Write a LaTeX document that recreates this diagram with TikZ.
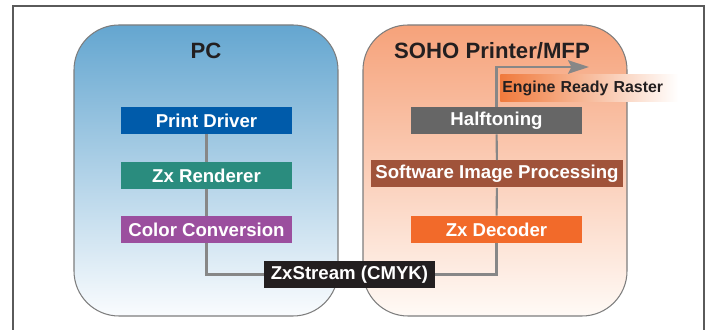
\documentclass[tikz,border=0pt]{standalone}
\usepackage{fontspec}
\setmainfont{Liberation Sans}
\usetikzlibrary{arrows.meta}
\tikzstyle{pixelGrid} = [x = 0.02cm, y = -0.02cm]
\definecolor{frameColor}{RGB}{90,90,90}
\definecolor{panelLine}{RGB}{125,125,125}
\definecolor{pcTop}{RGB}{100,166,208}
\definecolor{pcBottom}{RGB}{250,252,254}
\definecolor{mfpTop}{RGB}{246,162,122}
\definecolor{mfpBottom}{RGB}{255,250,246}
\definecolor{driverColor}{RGB}{0,91,170}
\definecolor{rendererColor}{RGB}{42,140,126}
\definecolor{conversionColor}{RGB}{155,79,158}
\definecolor{halftoneColor}{RGB}{102,102,102}
\definecolor{imageColor}{RGB}{160,83,58}
\definecolor{decoderColor}{RGB}{242,106,42}
\definecolor{streamColor}{RGB}{35,31,32}
\definecolor{rasterColor}{RGB}{240,122,60}
\definecolor{wireColor}{RGB}{135,135,135}
\tikzstyle{panelStyle} = [draw=panelLine, line width=0.6pt, rounded corners = 0.9cm]
\tikzstyle{panelTitle} = [font=\bfseries\fontsize{12.6}{14}\selectfont, text=streamColor, inner sep=0pt]
\tikzstyle{stageStyle} = [text=white, font=\bfseries\fontsize{10.6}{12}\selectfont, minimum height=0.54cm, inner sep=0pt]
\tikzstyle{rasterStyle} = [anchor=west, left color=rasterColor, right color=white, text=streamColor, font=\bfseries\fontsize{9.05}{11}\selectfont, minimum height=0.54cm, inner ysep=0pt, inner xsep=0.04cm, text width=3.48cm, align=left]
\tikzstyle{wire} = [draw=wireColor, line width=1.2pt]
\newcommand{\stage}[5]{\node [stageStyle, fill=#4, minimum width=#5] (#1) at (#2) {#3};}
\begin{document}
\begin{tikzpicture}[pixelGrid]
  \useasboundingbox (0,0) rectangle (707,330);
  \draw [frameColor, line width=0.6pt] (13,330) -- (13,6) -- (704,6) -- (704,330);

  % the two machines
  \draw [panelStyle, top color=pcTop, bottom color=pcBottom] (74,25) rectangle (338,316);
  \draw [panelStyle, top color=mfpTop, bottom color=mfpBottom] (363,25) rectangle (627,316);
  \node [panelTitle] (pcTitle) at (206,50.5) {PC};
  \node [panelTitle] (mfpTitle) at (492,50.5) {SOHO Printer/MFP};

  % PC side
  \stage{printDriver}{206.5,120.5}{Print Driver}{driverColor}{3.42cm}
  \stage{zxRenderer}{206.5,175.5}{Zx Renderer}{rendererColor}{3.42cm}
  \stage{colorConversion}{206.5,229.5}{Color Conversion}{conversionColor}{3.42cm}

  % printer side
  \stage{halftoning}{496.5,120.5}{Halftoning}{halftoneColor}{3.42cm}
  \stage{imageProcessing}{497,174}{Software Image Processing}{imageColor}{5.04cm}
  \stage{zxDecoder}{496.5,229.5}{Zx Decoder}{decoderColor}{3.42cm}

  \stage{zxStream}{349.5,274.5}{ZxStream (CMYK)}{streamColor}{3.42cm}
  \node [rasterStyle] (engineRaster) at (500,88.5) {Engine Ready Raster};
  \coordinate (rasterOut) at (589,67);

  % data path
  \draw [wire] (printDriver) -- (zxRenderer);
  \draw [wire] (zxRenderer) -- (colorConversion);
  \draw [wire] (colorConversion.south) |- (zxStream.west);
  \draw [wire] (zxStream.east) -| (zxDecoder.south);
  \draw [wire] (zxDecoder) -- (imageProcessing);
  \draw [wire] (imageProcessing) -- (halftoning);
  \draw [wire, -{Stealth[length=0.42cm, width=0.27cm, inset=0.07cm]}] (halftoning.north) |- (rasterOut);
\end{tikzpicture}
\end{document}
